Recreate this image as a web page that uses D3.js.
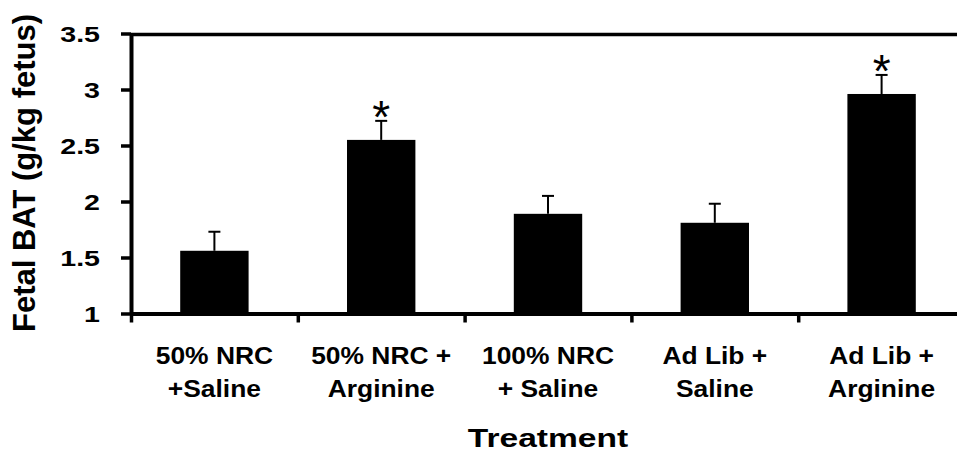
<!DOCTYPE html>
<html>
<head>
<meta charset="utf-8">
<script src="https://cdn.jsdelivr.net/npm/d3@7"></script>
<style>
  body { margin: 0; background: #fff; }
  text { font-family: "Liberation Sans", Arial, sans-serif; font-weight: bold; fill: #000; }
</style>
</head>
<body>
<div id="chart"></div>
<script>
// data
const treatments = ["50% NRC +Saline", "50% NRC + Arginine", "100% NRC + Saline", "Ad Lib + Saline", "Ad Lib + Arginine"];
const labelLines = [["50% NRC", "+Saline"], ["50% NRC +", "Arginine"], ["100% NRC", "+ Saline"], ["Ad Lib +", "Saline"], ["Ad Lib +", "Arginine"]];
const means = [1.56, 2.55, 1.89, 1.81, 2.96];
const sems = [0.17, 0.17, 0.16, 0.17, 0.17];
const significant = [false, true, false, false, true];
const yTicks = [1, 1.5, 2, 2.5, 3, 3.5];

const width = 957, height = 453;
const margin = { top: 33.5, right: -8, bottom: 139.5, left: 131 };

const svg = d3.select("#chart")
  .append("svg")
  .attr("width", width)
  .attr("height", height);

const data = treatments.map((t, i) => ({ name: t, lines: labelLines[i], mean: means[i], sem: sems[i], sig: significant[i] }));

// scales
const x = d3.scaleBand()
  .domain(treatments)
  .range([margin.left, width - margin.right])
  .padding(0);

const xEdge = d3.scaleLinear()
  .domain([0, treatments.length])
  .range([margin.left, width - margin.right]);

const y = d3.scaleLinear()
  .domain([1, 3.5])
  .range([height - margin.bottom, margin.top]);

const barW = x.bandwidth() * 0.41;

// bars
svg.append("g")
  .selectAll("rect")
  .data(data)
  .join("rect")
  .attr("x", d => x(d.name) + (x.bandwidth() - barW) / 2)
  .attr("width", barW)
  .attr("y", d => y(d.mean))
  .attr("height", d => y(1) - y(d.mean))
  .style("fill", "#000");

// error bars (upper only)
const err = svg.append("g").style("stroke", "#000").style("stroke-width", 2);
err.selectAll("line.stem")
  .data(data)
  .join("line")
  .attr("class", "stem")
  .attr("x1", d => x(d.name) + x.bandwidth() / 2)
  .attr("x2", d => x(d.name) + x.bandwidth() / 2)
  .attr("y1", d => y(d.mean))
  .attr("y2", d => y(d.mean + d.sem));
err.selectAll("line.cap")
  .data(data)
  .join("line")
  .attr("class", "cap")
  .attr("x1", d => x(d.name) + x.bandwidth() / 2 - 6)
  .attr("x2", d => x(d.name) + x.bandwidth() / 2 + 6)
  .attr("y1", d => y(d.mean + d.sem))
  .attr("y2", d => y(d.mean + d.sem));

// asterisks
svg.append("g")
  .selectAll("text")
  .data(data.filter(d => d.sig))
  .join("text")
  .attr("x", d => x(d.name) + x.bandwidth() / 2)
  .attr("y", d => y(d.mean + d.sem) + 12)
  .attr("text-anchor", "middle")
  .style("font-weight", "normal")
  .style("font-size", "46px")
  .text("*");

// top frame line
svg.append("line")
  .attr("x1", margin.left)
  .attr("x2", width - margin.right)
  .attr("y1", y(3.5) + 1)
  .attr("y2", y(3.5) + 1)
  .style("stroke", "#000")
  .style("stroke-width", 3.5);

// y axis
const yAxis = svg.append("g")
  .attr("transform", `translate(${margin.left},0)`)
  .call(d3.axisLeft(y).tickValues(yTicks).tickSize(10).tickSizeOuter(0).tickFormat(""));
yAxis.select(".domain").style("stroke-width", 4);
yAxis.selectAll(".tick line").style("stroke-width", 3.5);

yAxis.selectAll(".tick")
  .append("text")
  .attr("transform", "translate(-31,8) scale(1.3,1)")
  .attr("text-anchor", "end")
  .style("font-size", "22px")
  .text(d => d);

// x axis, ticks at category edges
const xAxis = svg.append("g")
  .attr("transform", `translate(0,${y(1)})`)
  .call(d3.axisBottom(xEdge).tickValues(d3.range(treatments.length + 1)).tickSize(9).tickSizeOuter(0).tickFormat(""));
xAxis.select(".domain").style("stroke-width", 4);
xAxis.selectAll(".tick line").style("stroke-width", 3.5);

// category labels, two lines each
const lab = svg.append("g")
  .selectAll("g")
  .data(data)
  .join("g")
  .attr("transform", d => `translate(${x(d.name) + x.bandwidth() / 2},0)`);
lab.selectAll("text")
  .data(d => d.lines)
  .join("text")
  .attr("transform", (d, i) => `translate(0,${364 + i * 33}) scale(1.1,1)`)
  .attr("text-anchor", "middle")
  .style("font-size", "24px")
  .text(d => d);

// axis titles
svg.append("text")
  .attr("transform", `translate(${(margin.left + width - margin.right) / 2},446.5) scale(1.29,1)`)
  .attr("text-anchor", "middle")
  .style("font-size", "26px")
  .text("Treatment");

svg.append("text")
  .attr("transform", "translate(35,173) rotate(-90)")
  .attr("text-anchor", "middle")
  .style("font-size", "31px")
  .text("Fetal BAT (g/kg fetus)");
</script>
</body>
</html>
